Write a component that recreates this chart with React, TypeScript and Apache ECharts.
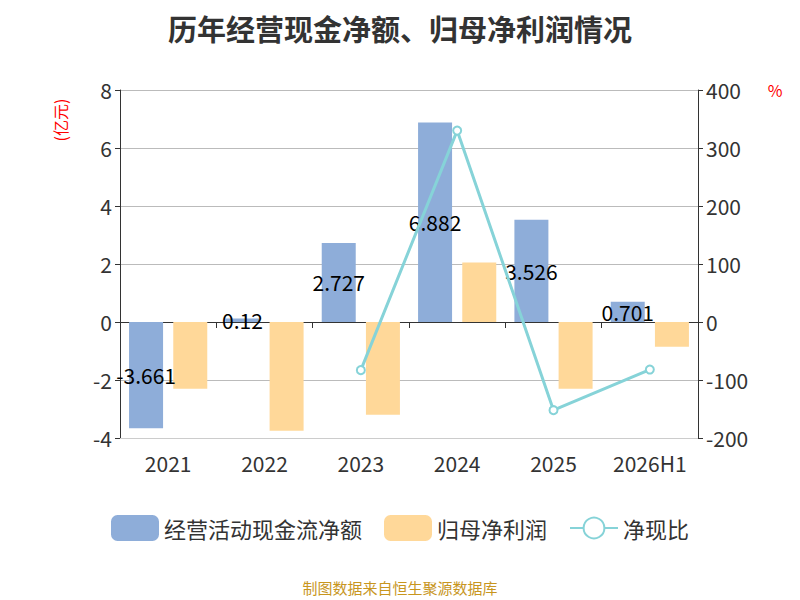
import React, { useEffect, useRef } from 'react';
import * as echarts from 'echarts';

const categories = ['2021', '2022', '2023', '2024', '2025', '2026H1'];
const cashFlow = [-3.661, 0.12, 2.727, 6.882, 3.526, 0.701];
const netProfit = [-2.3, -3.75, -3.2, 2.05, -2.3, -0.85];
const ratio: (number | string)[] = ['-', '-', -83, 330, -152, -82];

const App: React.FC = () => {
  const chartRef = useRef<HTMLDivElement | null>(null);

  useEffect(() => {
    if (!chartRef.current) return;
    const chart = echarts.init(chartRef.current, null, { renderer: 'svg' });
    const font = '"Noto Sans CJK SC", "Noto Sans", sans-serif';
    chart.setOption({
      animation: false,
      textStyle: { fontFamily: font },
      title: {
        text: '历年经营现金净额、归母净利润情况',
        left: 'center',
        top: 0,
        textStyle: { fontSize: 29, fontWeight: 'bold', color: '#333' },
      },
      legend: {
        bottom: 62,
        itemWidth: 48,
        itemHeight: 26,
        itemGap: 22,
        textStyle: { fontSize: 22, color: '#333' },
        data: ['经营活动现金流净额', '归母净利润', '净现比'],
      },
      grid: { left: 112, right: 94, top: 82, bottom: 170 },
      xAxis: [
        {
          type: 'category',
          data: categories,
          position: 'bottom',
          axisLine: { onZero: false, lineStyle: { color: '#ccc' } },
          axisTick: { show: false },
          axisLabel: { fontSize: 21, color: '#333', margin: 14 },
        },
        {
          type: 'category',
          data: categories,
          position: 'bottom',
          axisLine: { onZero: true, lineStyle: { color: '#333' } },
          axisTick: { show: true, length: 6 },
          axisLabel: { show: false },
        },
      ],
      yAxis: [
        {
          type: 'value',
          min: -4,
          max: 8,
          interval: 2,
          axisLine: { show: true, lineStyle: { color: '#333' } },
          axisTick: { show: true },
          axisLabel: { fontSize: 21, color: '#333' },
          splitLine: { lineStyle: { color: '#bbb' } },
        },
        {
          type: 'value',
          min: -200,
          max: 400,
          interval: 100,
          axisLine: { show: true, lineStyle: { color: '#333' } },
          axisTick: { show: true },
          axisLabel: { fontSize: 21, color: '#333' },
          splitLine: { show: false },
        },
      ],
      series: [
        {
          name: '经营活动现金流净额',
          type: 'bar',
          data: cashFlow,
          barWidth: 34,
          barGap: '30%',
          itemStyle: { color: '#8eadd9' },
          label: { show: true, position: 'inside', color: '#000', fontSize: 21 },
        },
        {
          name: '归母净利润',
          type: 'bar',
          data: netProfit,
          barWidth: 34,
          itemStyle: { color: '#ffd899' },
        },
        {
          name: '净现比',
          type: 'line',
          yAxisIndex: 1,
          data: ratio,
          symbol: 'circle',
          symbolSize: 8,
          itemStyle: { color: '#fff', borderColor: '#86d3d8', borderWidth: 2 },
          lineStyle: { color: '#86d3d8', width: 3 },
        },
      ],
      graphic: [
        {
          type: 'text',
          x: 52,
          y: 112,
          rotation: Math.PI / 2,
          style: { text: '(亿元)', fill: 'red', fontSize: 16, fontFamily: font, align: 'center', verticalAlign: 'middle' },
        },
        {
          type: 'text',
          x: 767,
          y: 82,
          style: { text: '%', fill: 'red', fontSize: 16, fontFamily: font, align: 'center', verticalAlign: 'middle' },
        },
        {
          type: 'text',
          left: 'center',
          top: 572,
          style: { text: '制图数据来自恒生聚源数据库', fill: '#c8961e', fontSize: 15, fontFamily: font },
        },
      ],
    });
    return () => chart.dispose();
  }, []);

  return <div ref={chartRef} style={{ width: 784, height: 600 }} />;
};

export default App;
